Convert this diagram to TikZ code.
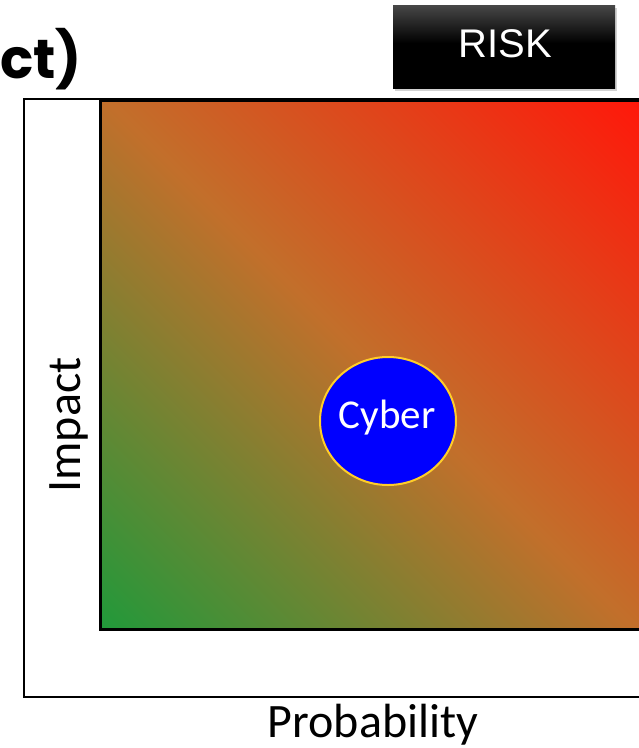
\documentclass[tikz,border=0pt]{standalone}
\usepackage{fontspec}
\setmainfont{Carlito}
\newfontfamily\arialfont{Liberation Sans}
\newfontfamily\titlefont{Poppins}[UprightFont=* Bold]
\usetikzlibrary{shadows,shapes.geometric}
\definecolor{gLL}{RGB}{33,153,58}
\definecolor{gMid}{RGB}{194,111,43}
\definecolor{gUR}{RGB}{255,24,10}
\definecolor{cyberblue}{RGB}{0,0,255}
\definecolor{cybergold}{RGB}{255,205,40}
\pgfdeclareverticalshading{riskshade}{100bp}{color(0bp)=(black); color(52bp)=(black); color(75bp)=(black!72); color(100bp)=(black!72)}
\pgfdeclarehorizontalshading{fieldshade}{100bp}{color(0bp)=(gLL); color(14.6bp)=(gLL); color(50bp)=(gMid); color(85.4bp)=(gUR); color(100bp)=(gUR)}
\tikzset{
  frame/.style={draw=black, line width=2pt},
  field/.style={draw=black, line width=3pt},
  axislabel/.style={font=\fontsize{48}{52}\selectfont, text=black, inner sep=0pt},
  riskbox/.style={shading=riskshade, minimum width=222pt, minimum height=83pt, inner sep=0pt,
    drop shadow={shadow xshift=2pt, shadow yshift=-3pt, opacity=0.35}},
  cyberbubble/.style={ellipse, fill=cyberblue, draw=cybergold, line width=2pt,
    minimum width=136pt, minimum height=128pt, inner sep=0pt}
}
\begin{document}
\begin{tikzpicture}[x=1pt, y=-1pt]
\useasboundingbox (0,0) rectangle (639,748);
\clip (0,0) rectangle (639,748);
\fill[white] (0,0) rectangle (639,748);
% outer frame
\draw[frame] (24,99) rectangle (660,697);
% gradient field
\shade[shading=fieldshade, shading angle=45] (100,100) rectangle (639,629);
\draw[field] (100,100) rectangle (660,629);
% title fragment
\node[anchor=base west, inner sep=0pt, font=\titlefont\fontsize{55}{60}\selectfont] (title) at (0,78) {ct)};
% RISK box
\node[riskbox] (risk) at (504,46.5) {};
\node[anchor=base, inner sep=0pt, text=white, font=\arialfont\fontsize{40}{44}\selectfont] (risktext) at (505,57) {RISK};
% Cyber bubble
\node[cyberbubble] (cyber) at (388,421) {};
\node[anchor=base, inner sep=0pt, text=white, font=\fontsize{41}{45}\selectfont] (cybertext) at (387,428) {Cyber};
% axis labels
\node[axislabel, anchor=base] (prob) at (373,737) {Probability};
\node[axislabel, anchor=base, rotate=90] (impact) at (80,425) {Impact};
\end{tikzpicture}
\end{document}
